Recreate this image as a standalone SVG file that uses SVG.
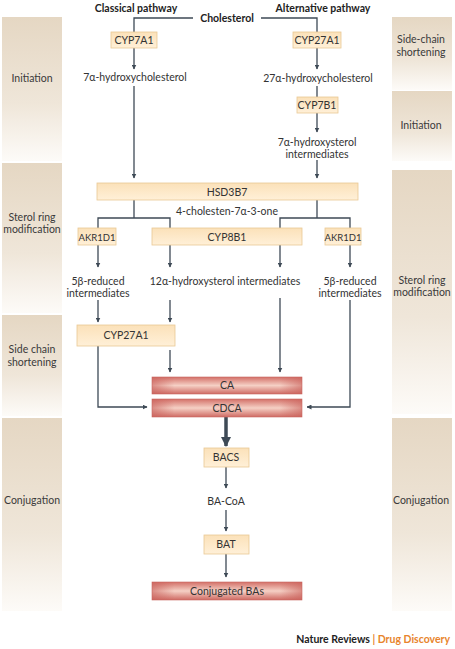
<svg xmlns="http://www.w3.org/2000/svg" width="455" height="649" viewBox="0 0 455 649">
<defs>
  <linearGradient id="panel" x1="0" y1="0" x2="0" y2="1">
    <stop offset="0" stop-color="#e5d7c3"/>
    <stop offset="0.6" stop-color="#efe6d9"/>
    <stop offset="1" stop-color="#fdfbf8"/>
  </linearGradient>
  <linearGradient id="enz" x1="0" y1="0" x2="0" y2="1">
    <stop offset="0" stop-color="#fbe1b9"/>
    <stop offset="1" stop-color="#fff0d8"/>
  </linearGradient>
  <linearGradient id="red" x1="0" y1="0" x2="0" y2="1">
    <stop offset="0" stop-color="#d37068"/>
    <stop offset="0.5" stop-color="#f5d0c5"/>
    <stop offset="1" stop-color="#cf6a63"/>
  </linearGradient>
  <linearGradient id="redH" x1="0" y1="0" x2="1" y2="0">
    <stop offset="0" stop-color="#c9605a" stop-opacity="0.6"/>
    <stop offset="0.15" stop-color="#c9605a" stop-opacity="0"/>
    <stop offset="0.85" stop-color="#c9605a" stop-opacity="0"/>
    <stop offset="1" stop-color="#c9605a" stop-opacity="0.6"/>
  </linearGradient>
  <marker id="ah" viewBox="0 0 10 10" refX="9" refY="5" markerWidth="5" markerHeight="5" markerUnits="userSpaceOnUse" orient="auto">
    <path d="M0,0 L10,5 L0,10 z" fill="#3e4a56"/>
  </marker>
  <marker id="ahBig" viewBox="0 0 10 10" refX="9" refY="5" markerWidth="3" markerHeight="3" orient="auto">
    <path d="M0,0 L10,5 L0,10 z" fill="#3e4a56"/>
  </marker>
</defs>
<style>
  text { font-family: Lato, "Open Sans", "Liberation Sans", sans-serif; fill: #333; font-size: 10.5px; }
  .lbl { text-anchor: middle; }
  .sm { font-size: 9.5px; }
  .stage { text-anchor: middle; font-size: 10.5px; fill: #3a3a3a; }
  .title { font-weight: bold; text-anchor: middle; font-size: 10.5px; fill: #222; }
  .panel { fill: url(#panel); }
  .enz { fill: url(#enz); stroke: #e9c895; stroke-width: 0.8; }
  .red { fill: url(#red); stroke: #c86862; stroke-width: 0.6; }
  .redh { fill: url(#redH); }
  .c { fill: none; stroke: #3e4a56; stroke-width: 1.3; }
  .a { marker-end: url(#ah); }
</style>

<g id="panels">
  <rect class="panel" x="2" y="17" width="60" height="144"/>
  <rect class="panel" x="2" y="163" width="60" height="150"/>
  <rect class="panel" x="2" y="315" width="60" height="101"/>
  <rect class="panel" x="2" y="418" width="60" height="193"/>
  <rect class="panel" x="392" y="17" width="60" height="73"/>
  <rect class="panel" x="392" y="91" width="60" height="70"/>
  <rect class="panel" x="392" y="170" width="60" height="244"/>
  <rect class="panel" x="392" y="418" width="60" height="193"/>
  <text class="stage" x="32" y="82">Initiation</text>
  <text class="stage" x="32" y="221">Sterol ring</text>
  <text class="stage" x="32" y="233">modification</text>
  <text class="stage" x="32" y="353">Side chain</text>
  <text class="stage" x="32" y="366">shortening</text>
  <text class="stage" x="32" y="504">Conjugation</text>
  <text class="stage" x="421" y="43">Side-chain</text>
  <text class="stage" x="421" y="56">shortening</text>
  <text class="stage" x="421" y="129">Initiation</text>
  <text class="stage" x="422" y="284">Sterol ring</text>
  <text class="stage" x="422" y="296">modification</text>
  <text class="stage" x="421" y="504">Conjugation</text>
</g>

<g id="titles">
  <text class="title" x="136" y="12">Classical pathway</text>
  <text class="title" x="323" y="12">Alternative pathway</text>
</g>

<g id="connectors">
  <path class="c" d="M193,18 H134 V32"/>
  <path class="c" d="M261,18 H317 V32"/>
  <path class="c a" d="M134,48 V69"/>
  <path class="c a" d="M134,86 V178"/>
  <path class="c a" d="M317,48 V69"/>
  <path class="c" d="M317,86 V97"/>
  <path class="c a" d="M317,113 V132"/>
  <path class="c a" d="M317,160 V178"/>
  <path class="c" d="M134,200 V218"/>
  <path class="c" d="M98,228 V218 H170 V228"/>
  <path class="c" d="M317,200 V218"/>
  <path class="c" d="M280,228 V218 H350 V228"/>
  <path class="c a" d="M98,245 V267"/>
  <path class="c a" d="M170,245 V267"/>
  <path class="c a" d="M280,245 V267"/>
  <path class="c a" d="M350,245 V267"/>
  <path class="c a" d="M98,300 V322"/>
  <path class="c a" d="M170,300 V322"/>
  <path class="c a" d="M280,298 V372"/>
  <path class="c a" d="M350,300 V407 H307"/>
  <path class="c a" d="M98,346 V407 H147"/>
  <path class="c a" d="M170,350 V372"/>
  <path d="M226,417 V446" fill="none" stroke="#3e4a56" stroke-width="3.5" marker-end="url(#ahBig)"/>
  <path class="c a" d="M226,467 V488"/>
  <path class="c a" d="M226,510 V531"/>
  <path class="c a" d="M226,554 V577"/>
</g>

<g id="cholesterol"><text class="title" x="227" y="22">Cholesterol</text></g>

<g id="cyp7a1"><rect class="enz" x="111" y="32" width="46" height="16"/><text class="lbl" x="134" y="44">CYP7A1</text></g>
<g id="hydroxychol7a"><text class="lbl" x="135" y="81">7α-hydroxycholesterol</text></g>
<g id="cyp27a1-alt"><rect class="enz" x="293" y="32" width="48" height="16"/><text class="lbl" x="317" y="44">CYP27A1</text></g>
<g id="hydroxychol27a"><text class="lbl" x="318" y="82">27α-hydroxycholesterol</text></g>
<g id="cyp7b1"><rect class="enz" x="297" y="97" width="41" height="16"/><text class="lbl" x="317" y="109">CYP7B1</text></g>
<g id="hydroxysterol7a"><text class="lbl" x="317" y="146">7α-hydroxysterol</text><text class="lbl" x="317" y="158">intermediates</text></g>

<g id="hsd3b7"><rect class="enz" x="97" y="183" width="261" height="17"/><text class="lbl" x="227" y="196">HSD3B7</text></g>
<g id="cholestenone"><text class="lbl" x="227" y="215">4-cholesten-7α-3-one</text></g>

<g id="akr1d1-left"><rect class="enz" x="78" y="228" width="38" height="17"/><text class="lbl sm" x="97" y="240.5">AKR1D1</text></g>
<g id="cyp8b1"><rect class="enz" x="152" y="228" width="150" height="17"/><text class="lbl" x="227" y="241">CYP8B1</text></g>
<g id="akr1d1-right"><rect class="enz" x="325" y="228" width="36" height="17"/><text class="lbl sm" x="343" y="240.5">AKR1D1</text></g>

<g id="reduced-left"><text class="lbl" x="98" y="285">5β-reduced</text><text class="lbl" x="98" y="297">intermediates</text></g>
<g id="hydroxysterol12a"><text class="lbl" x="225" y="285">12α-hydroxysterol intermediates</text></g>
<g id="reduced-right"><text class="lbl" x="350" y="285">5β-reduced</text><text class="lbl" x="350" y="297">intermediates</text></g>

<g id="cyp27a1-classic"><rect class="enz" x="77" y="325" width="98" height="21"/><text class="lbl" x="126" y="339">CYP27A1</text></g>

<g id="ca"><rect class="red" x="152" y="377" width="150" height="17"/><rect class="redh" x="152" y="377" width="150" height="17"/><text class="lbl" x="227" y="389">CA</text></g>
<g id="cdca"><rect class="red" x="152" y="399" width="150" height="18"/><rect class="redh" x="152" y="399" width="150" height="18"/><text class="lbl" x="227" y="412">CDCA</text></g>

<g id="bacs"><rect class="enz" x="204" y="448" width="45" height="19"/><text class="lbl" x="226" y="461">BACS</text></g>
<g id="bacoa"><text class="lbl" x="226" y="505">BA-CoA</text></g>
<g id="bat"><rect class="enz" x="204" y="535" width="45" height="19"/><text class="lbl" x="226" y="548">BAT</text></g>
<g id="conjugated"><rect class="red" x="152" y="582" width="150" height="18"/><rect class="redh" x="152" y="582" width="150" height="18"/><text class="lbl" x="227" y="595">Conjugated BAs</text></g>

<g id="footer">
  <text x="450" y="643" text-anchor="end" font-weight="bold" style="font-size:10.5px"><tspan fill="#222">Nature Reviews </tspan><tspan fill="#e8842c">| Drug Discovery</tspan></text>
</g>
</svg>
